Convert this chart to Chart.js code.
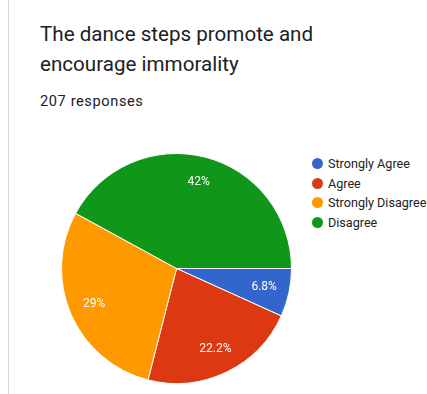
<!DOCTYPE html>
<html>
<head>
<meta charset="utf-8">
<script src="https://cdn.jsdelivr.net/npm/chart.js@4.4.0/dist/chart.umd.min.js"></script>
<style>
  body { margin: 0; background: #fff; width: 427px; height: 394px; overflow: hidden; font-family: Roboto, sans-serif; }
  #frame { position: absolute; left: 8px; top: 0; width: 1px; height: 394px; background: #d6d6d6; }
  #title { position: absolute; left: 40px; top: 19px; font-size: 20.6px; line-height: 30px; color: #202124; }
  #count { position: absolute; left: 40px; top: 92px; font-size: 14.6px; letter-spacing: 0.6px; color: #202124; }
  #wrap { position: absolute; left: 61px; top: 153px; width: 231px; height: 231px; }
  #legend { position: absolute; left: 312px; top: 154px; font-size: 12.6px; color: #222; white-space: nowrap; }
  #legend div { height: 19.7px; line-height: 19px; }
  #legend span { display: inline-block; width: 11px; height: 11px; border-radius: 50%; margin-right: 5px; vertical-align: -1px; }
</style>
</head>
<body>
<div id="frame"></div>
<div id="title">The dance steps promote and<br>encourage immorality</div>
<div id="count">207 responses</div>
<div id="wrap"><canvas id="myChart"></canvas></div>
<div id="legend"></div>
<script>
const labels = ["Strongly Agree", "Agree", "Strongly Disagree", "Disagree"];
const counts = [14, 46, 60, 87];
const percentLabels = ["6.8%", "22.2%", "29%", "42%"];
const colors = ["#3366cc", "#dc3912", "#ff9900", "#109618"];

// legend built from the same arrays
const legendEl = document.getElementById("legend");
labels.forEach((name, i) => {
  const row = document.createElement("div");
  const dot = document.createElement("span");
  dot.style.background = colors[i];
  row.appendChild(dot);
  row.appendChild(document.createTextNode(name));
  legendEl.appendChild(row);
});

// white percent text inside each slice
const sliceLabels = {
  id: "sliceLabels",
  afterDatasetsDraw(chart) {
    const ctx = chart.ctx;
    const meta = chart.getDatasetMeta(0);
    ctx.save();
    ctx.font = "12px Roboto, sans-serif";
    ctx.fillStyle = "#fff";
    ctx.textAlign = "center";
    ctx.textBaseline = "middle";
    meta.data.forEach((arc, i) => {
      const mid = (arc.startAngle + arc.endAngle) / 2;
      const r = arc.outerRadius * 0.78;
      ctx.fillText(percentLabels[i], arc.x + Math.cos(mid) * r, arc.y + Math.sin(mid) * r);
    });
    ctx.restore();
  },
};

new Chart(document.getElementById("myChart"), {
  type: "pie",
  data: {
    labels: labels,
    datasets: [{
      data: counts,
      backgroundColor: colors,
      borderColor: "#fff",
      borderWidth: 1,
    }],
  },
  options: {
    responsive: true,
    maintainAspectRatio: false,
    animation: false,
    rotation: 90,
    layout: { padding: 0 },
    plugins: {
      legend: { display: false },
      tooltip: { enabled: false },
    },
  },
  plugins: [sliceLabels],
});
</script>
</body>
</html>
